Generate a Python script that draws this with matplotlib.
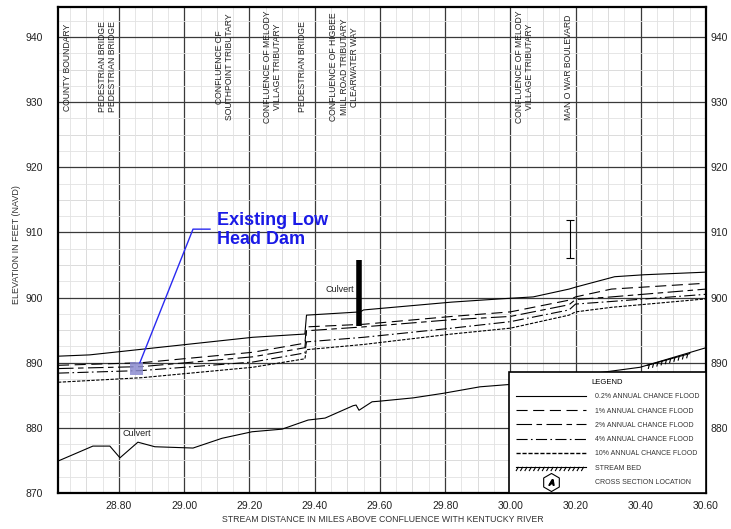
import matplotlib
matplotlib.use('Agg')
import matplotlib.pyplot as plt
from matplotlib.lines import Line2D
from matplotlib.patches import Rectangle
from matplotlib import patheffects
from matplotlib.legend_handler import HandlerTuple
from matplotlib.ticker import MultipleLocator

plt.rcParams['font.family'] = ['Liberation Sans', 'DejaVu Sans']

# ---------------- data ----------------
x_ticks = [28.80, 29.00, 29.20, 29.40, 29.60, 29.80, 30.00, 30.20, 30.40, 30.60]
y_ticks_left = [870, 880, 890, 900, 910, 920, 930, 940]
y_ticks_right = [880, 890, 900, 910, 920, 930, 940]

# 0.2% annual chance flood
top_x = [28.613, 28.71, 29.21, 29.37, 29.375, 29.54, 29.55, 29.82, 29.97, 30.07, 30.18, 30.20, 30.32, 30.41, 30.60]
top_elev = [891.0, 891.2, 893.9, 894.4, 897.3, 897.8, 898.1, 899.3, 899.8, 900.1, 901.3, 901.6, 903.2, 903.5, 903.9]

# other floods share stations
prof_x = [28.613, 28.87, 29.21, 29.37, 29.375, 29.55, 29.82, 30.00, 30.18, 30.20, 30.31, 30.60]
flood_1 = [889.6, 890.0, 891.6, 893.0, 895.5, 895.9, 897.1, 897.8, 899.6, 900.1, 901.3, 902.2]
flood_2 = [889.1, 889.4, 890.9, 892.3, 894.9, 895.5, 896.6, 897.1, 898.9, 899.7, 900.1, 901.3]
flood_4 = [888.4, 888.8, 890.1, 891.5, 893.2, 893.9, 895.3, 896.3, 898.1, 899.0, 899.4, 900.5]
flood_10 = [887.0, 887.7, 889.3, 890.6, 892.0, 892.8, 894.4, 895.3, 897.3, 897.8, 898.5, 899.8]

# stream bed
bed_x = [28.613, 28.720, 28.772, 28.803, 28.858, 28.910, 29.027, 29.116, 29.208, 29.300, 29.380,
         29.432, 29.518, 29.527, 29.536, 29.576, 29.600, 29.702, 29.794, 29.907, 30.008, 30.398, 30.600]
bed_elev = [874.9, 877.2, 877.2, 875.4, 877.8, 877.1, 876.9, 878.4, 879.4, 879.8, 881.2,
            881.5, 883.4, 883.5, 882.7, 884.0, 884.1, 884.6, 885.3, 886.3, 886.7, 889.3, 892.3]
hatch_x = [30.42, 30.55]
hatch_elev = [889.6, 891.4]

# features
label_x = [28.641, 28.766, 29.125, 29.272, 29.364, 29.49, 30.042, 30.177]
label_text = ["COUNTY BOUNDARY",
              "PEDESTRIAN BRIDGE\nPEDESTRIAN BRIDGE",
              "CONFLUENCE OF\nSOUTHPOINT TRIBUTARY",
              "CONFLUENCE OF MELODY\nVILLAGE TRIBUTARY",
              "PEDESTRIAN BRIDGE",
              "CONFLUENCE OF HIGBEE\nMILL ROAD TRIBUTARY\nCLEARWATER WAY",
              "CONFLUENCE OF MELODY\nVILLAGE TRIBUTARY",
              "MAN O WAR BOULEVARD"]
label_elev = 935.4

dam_x = [28.835, 28.875]
dam_elev = [888.1, 890.1]
leader_x = [29.079, 29.027, 28.864]
leader_elev = [910.5, 910.5, 890.0]
culvert_x = 29.535
culvert_elev = [895.6, 905.8]
errbar_x = 30.183
errbar_elev = [906.1, 911.9]

# ---------------- figure ----------------
fig = plt.figure(figsize=(7.31, 5.29), dpi=100)
ax = fig.add_axes([58/731, 1-493/529, 648/731, 486/529])
ax.set_xlim(28.613, 30.60)
ax.set_ylim(870, 944.6)

# grid
ax.xaxis.set_minor_locator(MultipleLocator(0.05))
ax.yaxis.set_minor_locator(MultipleLocator(2.5))
ax.grid(which='minor', color='#e2e2e2', lw=0.6)
for xv in [x + 0.1 for x in x_ticks] + [28.70]:
    ax.axvline(xv, color='#bcbcbc', lw=0.7, zorder=0.5)
for yv in range(875, 945, 10):
    ax.axhline(yv, color='#bcbcbc', lw=0.7, zorder=0.5)
ax.set_xticks(x_ticks)
ax.set_xticklabels([f"{v:.2f}" for v in x_ticks], fontsize=7.5, color='#222222')
ax.set_yticks(y_ticks_left)
ax.set_yticklabels([str(v) for v in y_ticks_left], fontsize=7.5, color='#222222')
ax.grid(which='major', color='#3a3a3a', lw=0.9)
ax.tick_params(which='both', length=0)
ax.tick_params(axis='y', pad=11)
ax.tick_params(axis='x', pad=6)
for s in ax.spines.values():
    s.set_linewidth(1.6)
    s.set_color('black')

ax2 = ax.twinx()
ax2.set_ylim(ax.get_ylim())
ax2.set_yticks(y_ticks_right)
ax2.set_yticklabels([str(v) for v in y_ticks_right], fontsize=7.5, color='#222222')
ax2.tick_params(length=0, pad=3)
for s in ax2.spines.values():
    s.set_visible(False)

ax.set_ylabel("ELEVATION IN FEET (NAVD)", fontsize=6.5, color='#333333', va='center')
ax.yaxis.set_label_coords((17 - 58) / 648, (493 - 245) / 486)
ax.set_xlabel("STREAM DISTANCE IN MILES ABOVE CONFLUENCE WITH KENTUCKY RIVER",
              fontsize=6.3, color='#333333', va='center')
ax.xaxis.set_label_coords((383 - 58) / 648, (493 - 520) / 486)

# profiles
lw = 0.8
ax.plot(top_x, top_elev, color='black', lw=lw, zorder=3)
ax.plot(prof_x, flood_1, color='black', lw=lw, dashes=(10, 5), zorder=3)
ax.plot(prof_x, flood_2, color='black', lw=lw, dashes=(14, 4, 5, 4), zorder=3)
ax.plot(prof_x, flood_4, color='black', lw=lw, dashes=(10, 3, 1.5, 3), zorder=3)
ax.plot(prof_x, flood_10, color='black', lw=lw, dashes=(3, 1.3), zorder=3)
ax.plot(bed_x, bed_elev, color='black', lw=lw, zorder=3)
ax.plot(hatch_x, hatch_elev, color='black', lw=0.8, zorder=3,
        path_effects=[patheffects.withTickedStroke(angle=-120, spacing=3, length=0.9)])

# features
for x, t in zip(label_x, label_text):
    ax.text(x, label_elev, t, rotation=90, ha='center', va='center', multialignment='center',
            fontsize=6.2, color='#222222', linespacing=1.15, zorder=4)

ax.add_patch(Rectangle((dam_x[0], dam_elev[0]), dam_x[1]-dam_x[0], dam_elev[1]-dam_elev[0],
                       facecolor='#8c8cd0', edgecolor='none', alpha=0.85, zorder=4))
ax.plot(leader_x, leader_elev, color='#2a2af0', lw=1.0, zorder=5)
ax.text(29.10, 913.2, "Existing Low\nHead Dam", color='#1a1ae6', fontsize=13, fontweight='bold',
        ha='left', va='top', linespacing=1.18, zorder=5)

ax.plot([culvert_x, culvert_x], culvert_elev, color='black', lw=4, solid_capstyle='butt', zorder=4)
ax.text(29.522, 901.2, "Culvert", fontsize=6.5, ha='right', va='center', color='#222222')
ax.text(28.812, 879.2, "Culvert", fontsize=6.5, ha='left', va='center', color='#222222')
ax.errorbar([errbar_x], [sum(errbar_elev)/2], yerr=[[(errbar_elev[1]-errbar_elev[0])/2]],
            color='black', lw=0.8, capsize=3, capthick=0.8, zorder=4)

# legend
h02 = Line2D([], [], color='black', lw=lw)
h1 = Line2D([], [], color='black', lw=lw, dashes=(10, 5))
h2 = Line2D([], [], color='black', lw=lw, dashes=(14, 4, 5, 4))
h4 = Line2D([], [], color='black', lw=lw, dashes=(10, 3, 1.5, 3))
h10 = Line2D([], [], color='black', lw=1.0, dashes=(3, 1.3))
hbed = Line2D([], [], color='black', lw=0.8,
              path_effects=[patheffects.withTickedStroke(angle=-120, spacing=3, length=0.9)])
hhex = Line2D([], [], marker='h', ms=13, mfc='white', mec='black', mew=0.8, ls='none')
hA = Line2D([], [], marker='$A$', ms=4, color='black', ls='none')
leg = ax.legend([h02, h1, h2, h4, h10, hbed, (hhex, hA)],
                ["0.2% ANNUAL CHANCE FLOOD", "1% ANNUAL CHANCE FLOOD", "2% ANNUAL CHANCE FLOOD",
                 "4% ANNUAL CHANCE FLOOD", "10% ANNUAL CHANCE FLOOD", "STREAM BED",
                 "CROSS SECTION LOCATION"],
                handler_map={tuple: HandlerTuple(ndivide=1)},
                loc='lower right', bbox_to_anchor=(1.0, 0.0), borderaxespad=0.0,
                fontsize=5, title="LEGEND", title_fontsize=5.5, handlelength=10,
                handletextpad=1.3, labelspacing=1.05, fancybox=False, framealpha=1,
                edgecolor='black', borderpad=1.0)
leg.get_frame().set_linewidth(1.2)
for t in leg.get_texts():
    t.set_color('#333333')
leg.set_zorder(10)

fig.savefig("out.png", dpi=100)
